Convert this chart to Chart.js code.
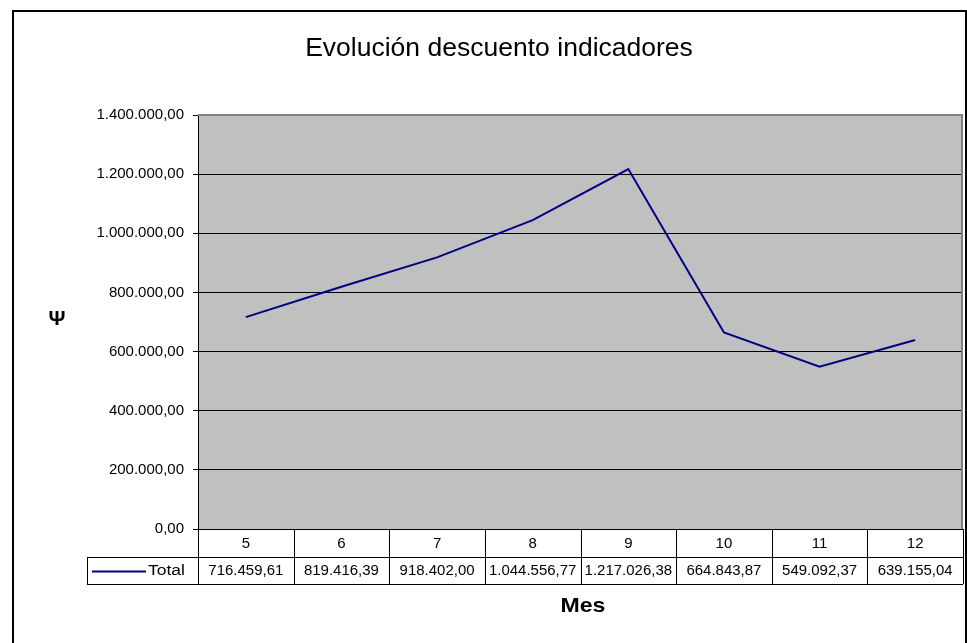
<!DOCTYPE html>
<html>
<head>
<meta charset="utf-8">
<script src="https://cdn.jsdelivr.net/npm/chart.js@4/dist/chart.umd.min.js"></script>
<style>
  html, body { margin: 0; padding: 0; background: #fff; }
  #wrap { width: 967px; height: 643px; }
</style>
</head>
<body>
<div id="wrap"><canvas id="chart" width="967" height="643"></canvas></div>
<script>
// datos
const meses = ["5", "6", "7", "8", "9", "10", "11", "12"];
const totales = [716459.61, 819416.39, 918402.0, 1044556.77, 1217026.38, 664843.87, 549092.37, 639155.04];
const serieNombre = "Total";
const titulo = "Evolución descuento indicadores";
const ejeX = "Mes";
const ejeY = "Ψ";
const yMin = 0;
const yMax = 1400000;
const yPaso = 200000;

const FONT = "'Liberation Sans', Arial, sans-serif";

// 1.400.000,00
function fmt(v) {
  const partes = Number(v).toFixed(2).split(".");
  return partes[0].replace(/\B(?=(\d{3})+(?!\d))/g, ".") + "," + partes[1];
}

// texto algo ensanchado, como en el original de Excel
function textoAncho(ctx, txt, x, y, sx) {
  ctx.save();
  ctx.translate(x, y);
  ctx.scale(sx, 1);
  ctx.fillText(txt, 0, 0);
  ctx.restore();
}

// fondo gris, marco, tabla de datos y textos
const excelPlugin = {
  id: "excel",
  beforeDraw(chart) {
    const { ctx, chartArea: a } = chart;
    ctx.save();
    ctx.fillStyle = "#c0c0c0";
    ctx.fillRect(a.left, a.top, a.right - a.left, a.bottom - a.top);
    ctx.restore();
  },
  afterDraw(chart) {
    const { ctx, chartArea: a } = chart;
    const x = chart.scales.x;
    const n = meses.length;
    const colW = (a.right - a.left) / n;
    const row1 = a.bottom + 28;
    const row2 = row1 + 27;
    const legLeft = 87;

    ctx.save();
    // borde gris arriba / derecha del área de trazado
    ctx.strokeStyle = "#808080";
    ctx.lineWidth = 2;
    ctx.beginPath();
    ctx.moveTo(a.left, a.top);
    ctx.lineTo(a.right - 1, a.top);
    ctx.lineTo(a.right - 1, a.bottom);
    ctx.stroke();

    // tabla
    ctx.strokeStyle = "#000";
    ctx.lineWidth = 1;
    ctx.beginPath();
    for (let i = 0; i <= n; i++) {
      const px = Math.round(a.left + i * colW) + 0.5;
      ctx.moveTo(px, a.bottom);
      ctx.lineTo(px, row2);
    }
    ctx.moveTo(legLeft + 0.5, row1);
    ctx.lineTo(legLeft + 0.5, row2);
    ctx.moveTo(legLeft, row1 + 0.5);
    ctx.lineTo(a.right, row1 + 0.5);
    ctx.moveTo(legLeft, row2 + 0.5);
    ctx.lineTo(a.right, row2 + 0.5);
    ctx.moveTo(a.left, a.bottom + 0.5);
    ctx.lineTo(a.right, a.bottom + 0.5);
    ctx.stroke();

    // valores
    ctx.fillStyle = "#000";
    ctx.font = "14px " + FONT;
    ctx.textAlign = "center";
    ctx.textBaseline = "middle";
    const midRow2 = (row1 + row2) / 2 + 1;
    totales.forEach((v, i) => {
      textoAncho(ctx, fmt(v), x.getPixelForValue(i), midRow2, 1.07);
    });

    // leyenda en la tabla
    const ds = chart.data.datasets[0];
    ctx.strokeStyle = ds.borderColor;
    ctx.lineWidth = 2;
    ctx.beginPath();
    ctx.moveTo(92, midRow2);
    ctx.lineTo(146, midRow2);
    ctx.stroke();
    ctx.textAlign = "left";
    textoAncho(ctx, serieNombre, 148, midRow2, 1.25);

    // título
    ctx.font = "26px " + FONT;
    ctx.textAlign = "center";
    textoAncho(ctx, titulo, 499, 49, 1.02);

    // ejes
    ctx.font = "bold 21px " + FONT;
    textoAncho(ctx, ejeX, 583, 606, 1.1);
    ctx.font = "bold 21px " + FONT;
    ctx.fillText(ejeY, 57, 319);

    // marco exterior
    ctx.strokeStyle = "#000";
    ctx.lineWidth = 2;
    ctx.beginPath();
    ctx.moveTo(13, 650);
    ctx.lineTo(13, 11);
    ctx.lineTo(966, 11);
    ctx.lineTo(966, 650);
    ctx.stroke();
    ctx.restore();
  }
};

new Chart(document.getElementById("chart"), {
  type: "line",
  data: {
    labels: meses,
    datasets: [{
      label: serieNombre,
      data: totales,
      borderColor: "#000080",
      borderWidth: 2,
      pointRadius: 0,
      tension: 0,
      fill: false
    }]
  },
  options: {
    responsive: false,
    animation: false,
    devicePixelRatio: 1,
    layout: { padding: { top: 115, right: 4, left: 0, bottom: 0 } },
    plugins: {
      legend: { display: false },
      title: { display: false },
      tooltip: { enabled: false }
    },
    scales: {
      x: {
        type: "category",
        offset: true,
        grid: { display: false, drawTicks: false },
        border: { display: false },
        ticks: {
          color: "#000",
          font: { family: FONT, size: 15 },
          padding: 6,
          maxRotation: 0
        },
        afterFit(scale) { scale.height = 114; }
      },
      y: {
        min: yMin,
        max: yMax,
        ticks: {
          stepSize: yPaso,
          color: "#000",
          font: { family: FONT, size: 15 },
          padding: 9,
          callback: (v) => fmt(v)
        },
        grid: { color: "#000", lineWidth: 1, tickLength: 5, tickColor: "#000" },
        border: { color: "#000", width: 1 },
        afterFit(scale) { scale.width = 198; }
      }
    }
  },
  plugins: [excelPlugin]
});
</script>
</body>
</html>
